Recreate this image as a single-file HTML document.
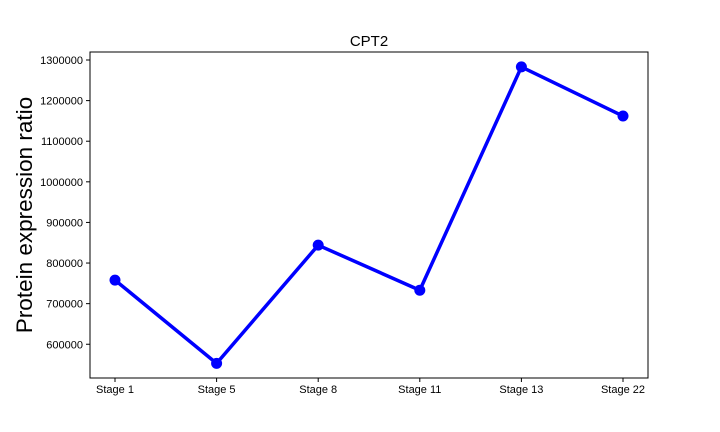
<!DOCTYPE html>
<html><head><meta charset="utf-8"><style>
body{margin:0;background:#fff;}
svg{display:block;font-family:"Liberation Sans","DejaVu Sans",sans-serif;}
</style></head><body>
<svg id="c" width="720" height="432"></svg>
<script>
const categories=["Stage 1","Stage 5","Stage 8","Stage 11","Stage 13","Stage 22"];
const values=[758000,553000,844000,733000,1283000,1162000];
const yTicks=[600000,700000,800000,900000,1000000,1100000,1200000,1300000];
const L=90,R=648,T=52,B=378;
const yMin=516900,yMax=1319700;
const ns="http://www.w3.org/2000/svg";
const svg=document.getElementById('c');
function y(v){return B-(v-yMin)/(yMax-yMin)*(B-T);}
function x(i){return 115+i*(623-115)/(categories.length-1);}
function mk(t,a,p){const e=document.createElementNS(ns,t);for(const k in a)e.setAttribute(k,a[k]);(p||svg).appendChild(e);return e;}
let e=mk('rect',{x:L,y:T,width:R-L,height:B-T,fill:'none',stroke:'#000','stroke-width':1});


yTicks.forEach(v=>{
 const l=mk('line',{x1:L-4,x2:L,y1:y(v),y2:y(v),stroke:'#000'});
 
 
 const t=mk('text',{x:L-7,y:y(v)+4,'text-anchor':'end','font-size':11});
 t.textContent=v;
 
 
});
categories.forEach((c,i)=>{
 const l=mk('line',{x1:x(i),x2:x(i),y1:B,y2:B+4,stroke:'#000'});
 
 
 const t=mk('text',{x:x(i),y:B+15,'text-anchor':'middle','font-size':11});
 t.textContent=c;
 
 
});
const line=mk('polyline',{points:values.map((v,i)=>x(i)+','+y(v)).join(' '),fill:'none',stroke:'#0000ff','stroke-width':3.5,'stroke-linejoin':'round'});


values.forEach((v,i)=>{
 const p=mk('circle',{cx:x(i),cy:y(v),r:5.5,fill:'#0000ff'});
 
 
});
const ti=mk('text',{x:(L+R)/2,y:46,'text-anchor':'middle','font-size':15});
ti.textContent='CPT2';


const yl=mk('text',{x:0,y:0,'text-anchor':'middle','font-size':22.5,transform:'translate(32,215) rotate(-90)'});
yl.textContent='Protein expression ratio';


</script>
</body></html>
